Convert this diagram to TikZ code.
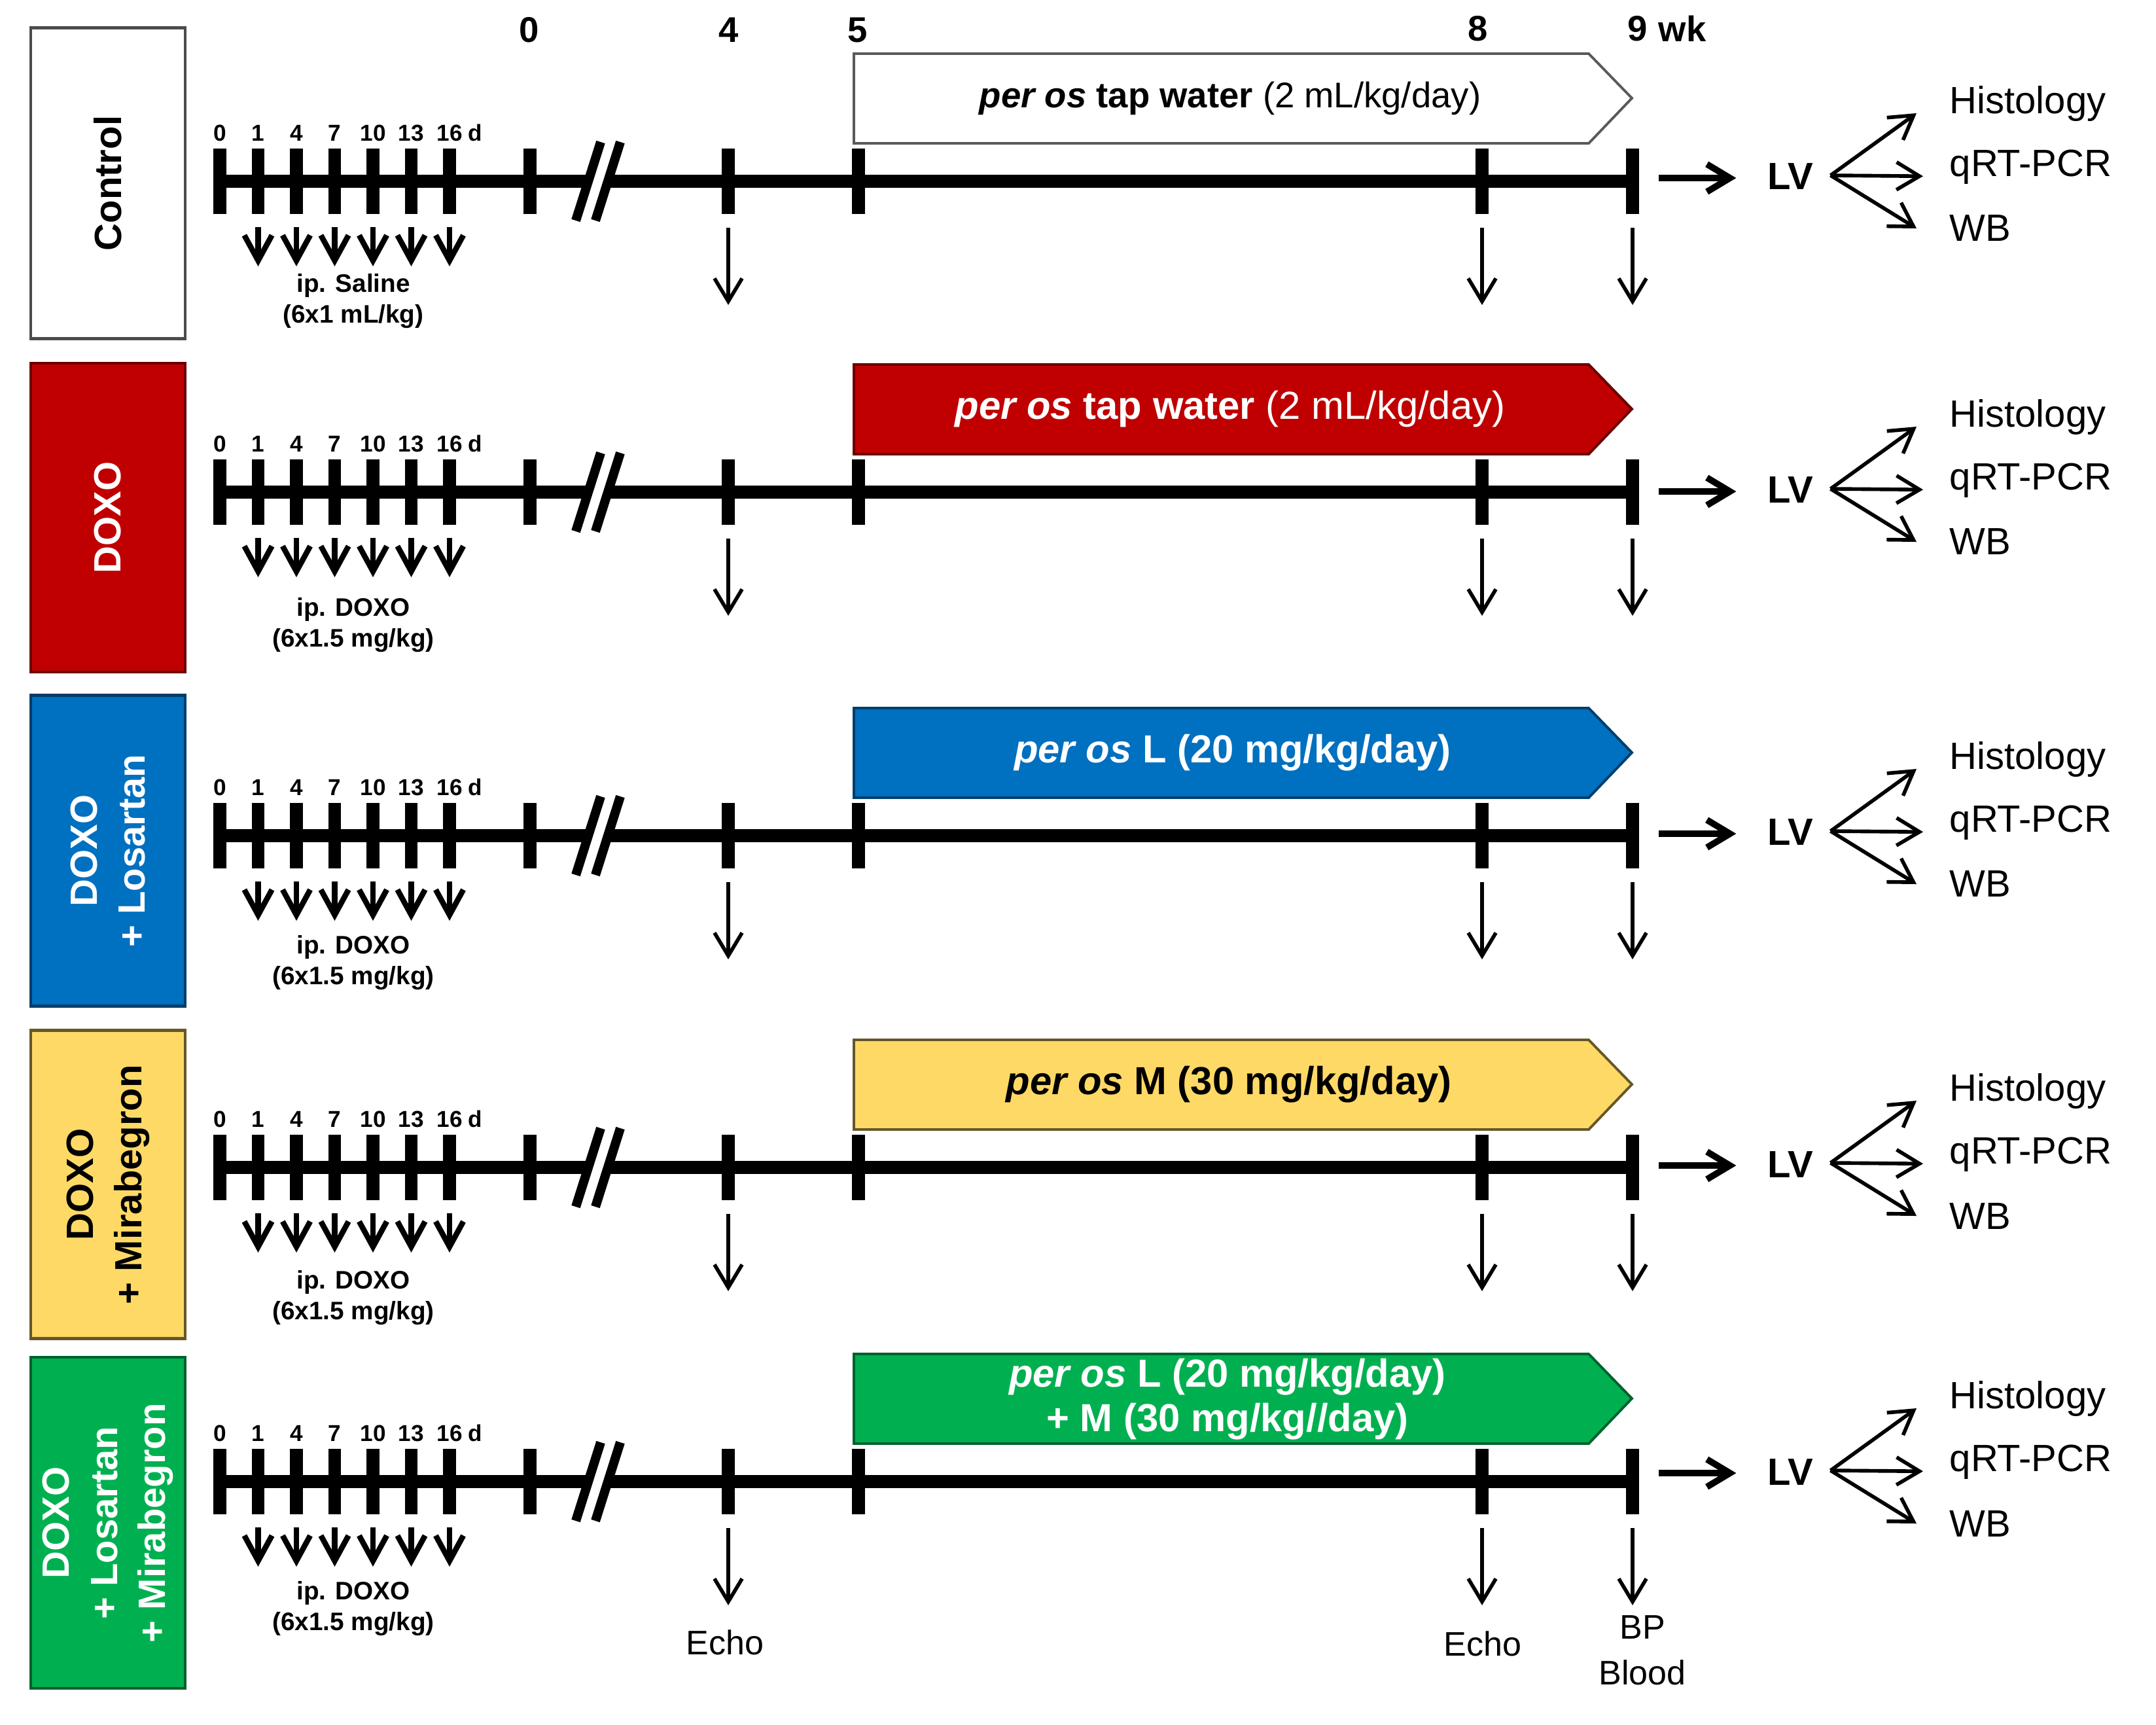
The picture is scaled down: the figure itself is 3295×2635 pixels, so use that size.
\documentclass[tikz,border=0pt]{standalone}
\usepackage{fontspec}
\setmainfont{Liberation Sans}
\usetikzlibrary{arrows.meta,positioning,calc}

\definecolor{doxored}{HTML}{C00000}
\definecolor{losblue}{HTML}{0070C0}
\definecolor{mirayellow}{HTML}{FFD966}
\definecolor{combgreen}{HTML}{00B050}

\tikzset{
  axis line/.style={line width=5.6pt},
  tick mark/.style={line width=5.6pt},
  break mark/.style={line width=4pt},
  dose arrow/.style={line width=2.4pt,-{Straight Barb[length=11pt,width=12pt]}},
  week arrow/.style={line width=1.6pt,-{Straight Barb[length=10pt,width=12pt]}},
  lv arrow/.style={line width=2.8pt,-{Straight Barb[length=10pt,width=12pt]}},
  fan arrow/.style={line width=1.6pt,-{Straight Barb[length=10pt,width=12pt]}},
  group box/.style={rectangle,rotate=90,inner sep=0pt,minimum height=2.36cm,
                    line width=1.3pt,align=center,font=\fontsize{16.5}{21}\selectfont\bfseries},
  treat arrow/.style={line width=1.1pt},
  treat text/.style={inner sep=0pt,align=center,font=\fontsize{17}{19.5}\selectfont},
  day label/.style={inner sep=0pt,font=\fontsize{10}{12}\selectfont\bfseries},
  week label/.style={inner sep=0pt,font=\fontsize{15.5}{18}\selectfont\bfseries},
  dose label/.style={inner sep=0pt,align=center,font=\fontsize{11}{13.4}\selectfont\bfseries},
  lv label/.style={inner sep=0pt,font=\fontsize{16.5}{20}\selectfont\bfseries},
  out label/.style={inner sep=0pt,anchor=west,font=\fontsize{16.5}{20}\selectfont},
  event label/.style={inner sep=0pt,align=center,font=\fontsize{14.8}{20}\selectfont}
}

\begin{document}
\begin{tikzpicture}[x=0.01cm,y=-0.01cm]
\useasboundingbox[fill=white] (0,0) rectangle (3295,2635);

%Week scale on top
\node[week label] (Wk0) at (809,46) {0};
\node[week label] (Wk4) at (1114,46) {4};
\node[week label] (Wk5) at (1311,46) {5};
\node[week label] (Wk8) at (2259,44) {8};
\node[week label] (Wk9) at (2503,44) {9};
\node[week label,right=0.15cm of Wk9] (WkUnit) {wk};

%One timeline per group
\foreach \row/\ty/\lvy/\dy/\fc/\dc/\ip in {
  1/277/270/183/white/black!65/{ip. Saline\\(6x1 mL/kg)},
  2/752/749/203/doxored/doxored!55!black/{ip. DOXO\\(6x1.5 mg/kg)},
  3/1277/1272/194/losblue/losblue!55!black/{ip. DOXO\\(6x1.5 mg/kg)},
  4/1784/1779/199/mirayellow/mirayellow!40!black/{ip. DOXO\\(6x1.5 mg/kg)},
  5/2264/2249/194/combgreen/combgreen!55!black/{ip. DOXO\\(6x1.5 mg/kg)}}
{
 %base line with break
 \draw[axis line] (326,\ty) -- (899,\ty);
 \draw[axis line] (929,\ty) -- (2495,\ty);
 \draw[break mark] (880,\ty+60) -- (918,\ty-60);
 \draw[break mark] (910,\ty+60) -- (948,\ty-60);

 %injection days
 \foreach \d [count=\k from 0] in {0,1,4,7,10,13,16}
 {\draw[tick mark] (336+58.5*\k,\ty-50) -- (336+58.5*\k,\ty+50);
  \node[day label] (Day\row-\k) at (336+58.5*\k,\ty-74) {\d};}
 \node[day label,right=0.08cm of Day\row-6] (DayUnit\row) {d};
 \foreach \k in {1,...,6}
  \draw[dose arrow] (336+58.5*\k,\ty+70) -- (336+58.5*\k,\ty+130);
 \node[dose label] (Dose\row) at (540,\ty+\dy) {\ip};

 %weeks
 \foreach \w in {810,1113,1312,2265,2495}
  \draw[tick mark] (\w,\ty-50) -- (\w,\ty+50);
 \foreach \w in {1113,2265,2495}
  \draw[week arrow] (\w,\ty+71) -- (\w,\ty+189);

 %treatment arrow
 \draw[treat arrow,fill=\fc,draw=\dc] (1305,\ty-195) -- (2428,\ty-195) -- (2494,\ty-127)
   -- (2428,\ty-58) -- (1305,\ty-58) -- cycle;

 %LV and analyses
 \node[lv label] (Lv\row) at (2736,\lvy) {LV};
 \node[out label] (Hist\row) at (2979,\lvy-112) {Histology};
 \node[out label] (Pcr\row) at (2979,\lvy-15) {qRT-PCR};
 \node[out label] (Wb\row) at (2979,\lvy+79) {WB};
 \coordinate (End\row) at (2495,\ty);
 \coordinate (Fan\row) at ($(Lv\row.east)+(26,-2)$);
 \draw[lv arrow] ($(End\row |- Lv\row)+(40,2)$) -- ($(Lv\row.west)+(-47,2)$);
 \draw[fan arrow] (Fan\row) -- ([xshift=-0.5cm]Hist\row.base west);
 \draw[fan arrow] (Fan\row) -- ([xshift=-0.4cm]Pcr\row.base west);
 \draw[fan arrow] (Fan\row) -- ([xshift=-0.5cm]Wb\row.west);
}

%Groups
\node[group box,fill=white,draw=black!70,minimum width=4.75cm] (Grp1) at (165,280) {Control};
\node[group box,fill=doxored,draw=doxored!55!black,text=white,minimum width=4.72cm] (Grp2) at (165,791) {DOXO};
\node[group box,fill=losblue,draw=losblue!55!black,text=white,minimum width=4.75cm] (Grp3) at (165,1300) {DOXO\\+ Losartan};
\node[group box,fill=mirayellow,draw=mirayellow!40!black,minimum width=4.71cm] (Grp4) at (165,1810) {DOXO\\+ Mirabegron};
\node[group box,fill=combgreen,draw=combgreen!55!black,text=white,minimum width=5.06cm] (Grp5) at (165,2327) {DOXO\\+ Losartan\\+ Mirabegron};

%Treatments per os
\node[treat text,font=\fontsize{15.5}{18}\selectfont] (Treat1) at (1880,150) {\textbf{\textit{per os}} \textbf{tap water} (2 mL/kg/day)};
\node[treat text,text=white] (Treat2) at (1880,625) {\textbf{\textit{per os}} \textbf{tap water} (2 mL/kg/day)};
\node[treat text,text=white] (Treat3) at (1884,1150) {\textbf{\textit{per os} L (20 mg/kg/day)}};
\node[treat text] (Treat4) at (1878,1657) {\textbf{\textit{per os} M (30 mg/kg/day)}};
\node[treat text,text=white,font=\fontsize{17}{19.5}\selectfont\bfseries] (Treat5) at (1876,2138) {\textit{per os} L (20 mg/kg/day)\\+ M (30 mg/kg//day)};

%Measurements
\node[event label] (Echo4) at (1108,2510) {Echo};
\node[event label] (Echo8) at (2266,2512) {Echo};
\node[event label] (BpBlood) at (2510,2522) {BP\\Blood};

\end{tikzpicture}
\end{document}
